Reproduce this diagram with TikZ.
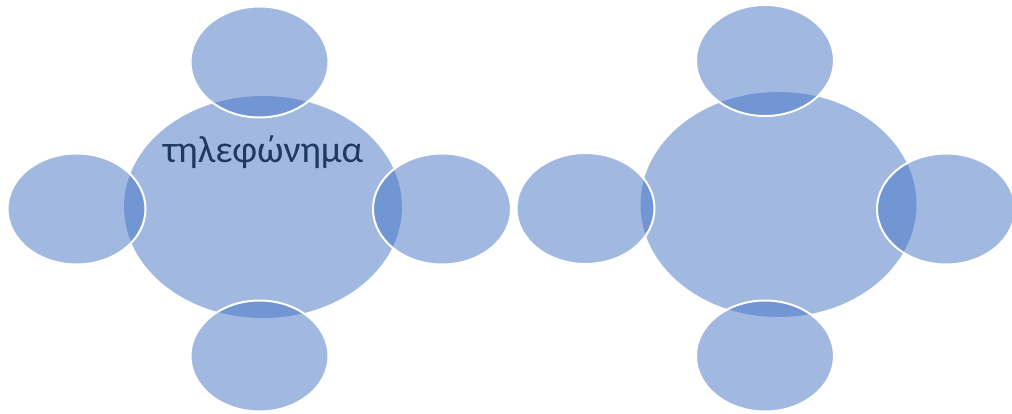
\documentclass[tikz,border=0pt]{standalone}
\usepackage{fontspec}
\newfontfamily\grfont{Carlito}
\usetikzlibrary{shapes.geometric}
\definecolor{officeblue}{HTML}{4472C4}
\definecolor{navytext}{HTML}{1F3864}
\tikzset{
  hub/.style={ellipse, inner sep=0pt, fill=officeblue, fill opacity=0.5, text opacity=1, draw=none},
  sat/.style={ellipse, inner sep=0pt, fill=officeblue, fill opacity=0.5, draw=white, draw opacity=1, line width=2pt,
              minimum width=138pt, minimum height=111pt},
}
\begin{document}
\begin{tikzpicture}[x=1pt,y=-1pt]
\useasboundingbox (0,0) rectangle (1012,414);
% left cluster
\node[hub, minimum width=278pt, minimum height=222pt] (c1) at (263,207) {};
\node[sat] (t1) at (259.5,62) {};
\node[sat] (l1) at (76.5,209) {};
\node[sat] (r1) at (442,209) {};
\node[sat] (b1) at (259.5,356) {};
\node[text=navytext, font=\grfont\fontsize{38}{46}\selectfont, anchor=base] (lbl) at (263,163) {τηλεφώνημα};
% right cluster
\node[hub, minimum width=276pt, minimum height=225pt] (c2) at (778.5,204.5) {};
\node[sat] (t2) at (765,60.5) {};
\node[sat] (l2) at (585.5,208.5) {};
\node[sat] (r2) at (946,209) {};
\node[sat] (b2) at (765,356) {};
\end{tikzpicture}
\end{document}
